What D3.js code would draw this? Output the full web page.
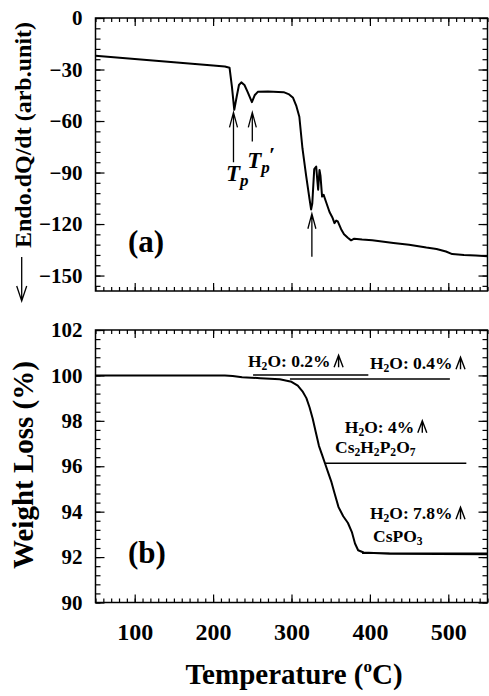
<!DOCTYPE html>
<html>
<head>
<meta charset="utf-8">
<script src="https://cdn.jsdelivr.net/npm/d3@7"></script>
<style>
  body { margin: 0; background: #fff; }
  svg { display: block; font-family: 'Liberation Serif', 'Times New Roman', serif; font-weight: bold; }
</style>
</head>
<body>
<script>
'use strict';

const WIDTH = 489;
const HEIGHT = 696;

const PLOT_LEFT = 95.5;
const PLOT_RIGHT = 487.5;

// Shared temperature axis.
const TEMP_DOMAIN = [50, 550];
const TEMP_TICKS = [100, 200, 300, 400, 500];

// Panel (a): DSC trace.
const DSC_DOMAIN = [-159, 0];
const DSC_TICKS = [0, -30, -60, -90, -120, -150];
const DSC_TEMP = [50, 100, 150, 200, 215, 221, 224, 227, 230, 233, 236, 240, 244, 249.5, 253, 257, 270, 290,
    297, 302, 306, 310, 314, 318.7, 323, 325, 326.5, 327.5, 329, 331.5, 333, 334, 335.7, 337, 339, 341, 344,
    348.5, 352, 354.8, 357, 359, 363.3, 367, 371.8, 376, 380, 390, 403, 430, 450, 472, 485, 497, 505, 520, 535, 550];
const DSC_SIGNAL = [-22, -23.9, -25.8, -27.7, -28.3, -29, -40, -53.5, -46, -39, -37.5, -39, -43, -49, -45, -43, -42.8, -43.2,
    -44.5, -46.5, -51, -57.5, -76, -92, -105.5, -111.5, -108, -100, -88, -86.5, -95, -100, -88.5, -92, -104, -103, -107,
    -113, -116, -119.5, -118, -118.5, -123, -126, -128, -129.5, -128.5, -129, -129.5, -131, -132, -133.7, -134.5, -136, -137.5, -138, -138.3, -138.8];

const DSC_ARROW_TEMP = [226, 250, 326];
const DSC_ARROW_TIP = [-55, -55, -114];
const DSC_ARROW_TAIL = [-84, -72, -139];
const PEAK_LABEL_TEMP = [216.5, 243.5];
const PEAK_LABEL_SIGNAL = [-95, -87.5];
const PEAK_LABEL_PRIME = [false, true];

// Panel (b): TGA trace.
const TGA_DOMAIN = [90, 102];
const TGA_TICKS = [90, 92, 94, 96, 98, 100, 102];
const TGA_TEMP = [50, 150, 215, 225, 237, 260, 285, 300, 308, 314, 319, 323, 327, 331, 335, 339, 343, 347, 351,
    355, 360, 366, 372, 377, 381, 385, 392, 425, 550];
const TGA_WEIGHT = [100, 100, 100, 99.97, 99.92, 99.88, 99.83, 99.72, 99.55, 99.3, 99.0, 98.6, 98.1, 97.5, 96.9, 96.5, 96.1, 95.7, 95.3,
    94.8, 94.2, 93.8, 93.5, 93.1, 92.6, 92.3, 92.2, 92.15, 92.12];

const STEP_START = [251, 298, 343, 390];
const STEP_END = [398, 502, 523, 550];
const STEP_LEVEL = [100.02, 99.84, 96.13, 92.17];

const LABEL_TEXT = ['H_2O: 0.2%', 'H_2O: 0.4%', 'H_2O: 4%', 'Cs_2H_2P_2O_7', 'H_2O: 7.8%', 'CsPO_3'];
const LABEL_TEMP = [244.5, 400, 368, 355.5, 400, 404];
const LABEL_WEIGHT = [100.36, 100.27, 97.48, 96.6, 93.67, 92.68];
const LABEL_ARROW = [true, true, true, false, true, false];

const LINE_WIDTH = 2;

function drawFrame(svg, x, y, majorY, minorY, showTempLabels) {
    let [bottom, top] = y.range();
    let minorX = d3.range(TEMP_DOMAIN[0], TEMP_DOMAIN[1] + 1, 10);

    let addAxis = function(axis, transform) {
        let g = svg.append('g')
                .attr('transform', transform)
                .call(axis);
        g.select('.domain').remove();
        g.selectAll('line').attr('stroke-width', 1.2);
        return g;
    };

    // Minor ticks on all four sides, pointing in.
    addAxis(d3.axisBottom(x).tickValues(minorX).tickSize(-4).tickFormat(''), `translate(0,${bottom})`);
    addAxis(d3.axisTop(x).tickValues(minorX).tickSize(-4).tickFormat(''), `translate(0,${top})`);
    addAxis(d3.axisLeft(y).tickValues(minorY).tickSize(-5).tickFormat(''), `translate(${PLOT_LEFT},0)`);
    addAxis(d3.axisRight(y).tickValues(minorY).tickSize(-5).tickFormat(''), `translate(${PLOT_RIGHT},0)`);

    // Major ticks.
    let bottomMajor = addAxis(d3.axisBottom(x).tickValues(TEMP_TICKS).tickSize(-8).tickPadding(20)
            .tickFormat(showTempLabels ? d3.format('d') : ''), `translate(0,${bottom})`);
    bottomMajor.attr('font-size', 24).attr('font-family', null);
    addAxis(d3.axisTop(x).tickValues(TEMP_TICKS).tickSize(-8).tickFormat(''), `translate(0,${top})`);
    let left = addAxis(d3.axisLeft(y).tickValues(majorY).tickSize(-9).tickPadding(13), `translate(${PLOT_LEFT},0)`);
    left.attr('font-size', 21).attr('font-family', null);
    addAxis(d3.axisRight(y).tickValues(majorY).tickSize(-9).tickFormat(''), `translate(${PLOT_RIGHT},0)`);

    svg.append('rect')
            .attr('x', PLOT_LEFT)
            .attr('y', top)
            .attr('width', PLOT_RIGHT - PLOT_LEFT)
            .attr('height', bottom - top)
            .attr('fill', 'none')
            .attr('stroke', '#000')
            .attr('stroke-width', 1.5);
}

// Write text where "_x" marks a one-character subscript.
function addChemText(parent, text, size) {
    let parts = text.split(/_(.)/);
    parts.forEach(function(part, i) {
        if (part === '') {
            return;
        }
        let isSub = i % 2 === 1;
        parent.append('tspan')
                .attr('font-size', isSub ? size * 0.66 : size)
                .attr('dy', isSub ? 3 : (i > 1 ? -3 : 0))
                .text(part);
    });
}

function upArrow(parent, cx, baseline) {
    parent.append('path')
            .attr('d', `M${cx},${baseline} V${baseline - 12} M${cx - 4.5},${baseline} L${cx},${baseline - 12} L${cx + 4.5},${baseline}`)
            .attr('fill', 'none')
            .attr('stroke', '#000')
            .attr('stroke-width', 1.4);
}

function main() {
    let svg = d3.select('body')
            .append('svg')
            .attr('width', WIDTH)
            .attr('height', HEIGHT);

    let x = d3.scaleLinear().domain(TEMP_DOMAIN).range([PLOT_LEFT, PLOT_RIGHT]);
    let yA = d3.scaleLinear().domain(DSC_DOMAIN).range([291, 18]);
    let yB = d3.scaleLinear().domain(TGA_DOMAIN).range([602.5, 330]);

    drawFrame(svg, x, yA, DSC_TICKS, d3.range(-156, 1, 6), false);
    drawFrame(svg, x, yB, TGA_TICKS, d3.range(0, 31).map(i => 90 + i * 0.4), true);

    // DSC curve.
    let dsc = DSC_TEMP.map((t, i) => [t, DSC_SIGNAL[i]]);
    svg.append('path')
            .datum(dsc)
            .attr('d', d3.line().x(d => x(d[0])).y(d => yA(d[1])))
            .attr('fill', 'none')
            .attr('stroke', '#000')
            .attr('stroke-width', LINE_WIDTH)
            .attr('stroke-linejoin', 'round');

    // Peak arrows.
    DSC_ARROW_TEMP.forEach(function(t, i) {
        let ax = x(t);
        let tip = yA(DSC_ARROW_TIP[i]);
        let tail = yA(DSC_ARROW_TAIL[i]);
        svg.append('path')
                .attr('d', `M${ax},${tail} V${tip} M${ax - 4},${tip + 15} L${ax},${tip} L${ax + 4},${tip + 15}`)
                .attr('fill', 'none')
                .attr('stroke', '#000')
                .attr('stroke-width', 1.3);
    });

    PEAK_LABEL_TEMP.forEach(function(t, i) {
        let label = svg.append('text')
                .attr('x', x(t))
                .attr('y', yA(PEAK_LABEL_SIGNAL[i]))
                .attr('font-style', 'italic')
                .attr('font-size', 23);
        label.append('tspan').text('T');
        label.append('tspan').attr('font-size', 17).attr('dy', 5).text('p');
        if (PEAK_LABEL_PRIME[i]) {
            label.append('tspan').attr('font-size', 22).attr('dy', -11).attr('dx', -1).text('′');
        }
    });

    // TGA curve.
    let tga = TGA_TEMP.map((t, i) => [t, TGA_WEIGHT[i]]);
    svg.append('path')
            .datum(tga)
            .attr('d', d3.line().x(d => x(d[0])).y(d => yB(d[1])))
            .attr('fill', 'none')
            .attr('stroke', '#000')
            .attr('stroke-width', LINE_WIDTH)
            .attr('stroke-linejoin', 'round');

    // Step reference lines.
    STEP_LEVEL.forEach(function(level, i) {
        svg.append('line')
                .attr('x1', x(STEP_START[i]))
                .attr('x2', x(STEP_END[i]))
                .attr('y1', yB(level))
                .attr('y2', yB(level))
                .attr('stroke', '#000')
                .attr('stroke-width', 1.5);
    });

    // Water loss labels.
    LABEL_TEXT.forEach(function(text, i) {
        let lx = x(LABEL_TEMP[i]);
        let ly = yB(LABEL_WEIGHT[i]);
        let label = svg.append('text')
                .attr('x', lx)
                .attr('y', ly);
        addChemText(label, text, 17.5);
        if (LABEL_ARROW[i]) {
            let end = lx + label.node().getComputedTextLength();
            upArrow(svg, end + 8, ly);
        }
    });

    // Panel tags.
    svg.append('text').attr('x', 128).attr('y', 252).attr('font-size', 31).text('(a)');
    svg.append('text').attr('x', 128).attr('y', 563).attr('font-size', 31).text('(b)');

    // Axis titles.
    svg.append('text')
            .attr('transform', 'translate(31,135) rotate(-90)')
            .attr('text-anchor', 'middle')
            .attr('font-size', 24)
            .text('Endo.dQ/dt (arb.unit)');
    svg.append('path')
            .attr('d', 'M21.7,257 V301 M16.7,286 L21.7,301 L26.7,286')
            .attr('fill', 'none')
            .attr('stroke', '#000')
            .attr('stroke-width', 1.3);

    svg.append('text')
            .attr('transform', 'translate(33,465) rotate(-90)')
            .attr('text-anchor', 'middle')
            .attr('font-size', 29)
            .text('Weight Loss (%)');

    let title = svg.append('text')
            .attr('x', 294)
            .attr('y', 684)
            .attr('text-anchor', 'middle')
            .attr('font-size', 29);
    title.append('tspan').text('Temperature (');
    title.append('tspan').attr('font-size', 17).attr('dy', -12).text('o');
    title.append('tspan').attr('dy', 12).text('C)');
}

document.addEventListener('DOMContentLoaded', function(event) {
    main();
});
</script>
</body>
</html>
